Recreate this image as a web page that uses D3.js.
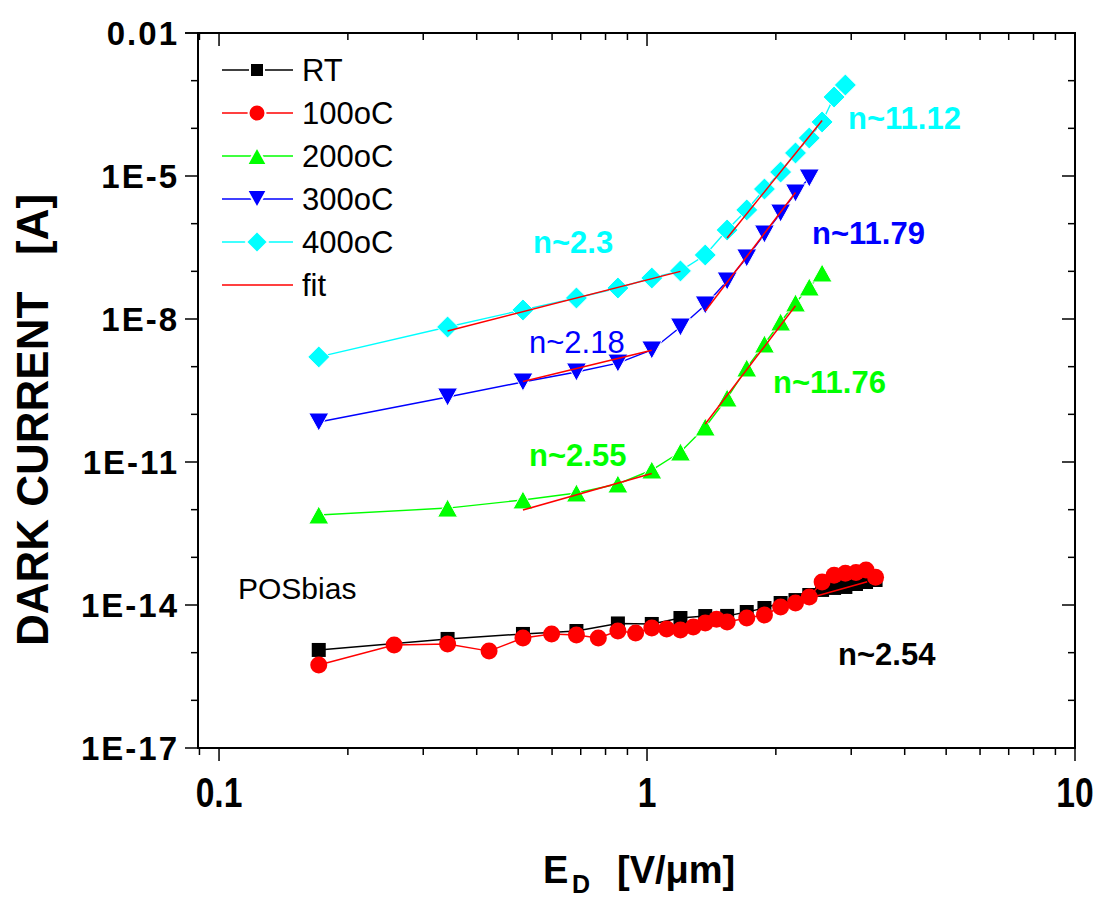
<!DOCTYPE html>
<html>
<head>
<meta charset="utf-8">
<script src="https://cdn.jsdelivr.net/npm/d3@7"></script>
<style>
  body { margin: 0; background: #fff; }
  svg { display: block; }
  text { font-family: Arial, "Liberation Sans", sans-serif; }
</style>
</head>
<body>
<svg id="chart" width="1100" height="898"></svg>
<script>
// Applied field E_D [V/um] for the integer voltage steps and for the half steps
const fieldFull = [0.171, 0.342, 0.513, 0.684, 0.855, 1.026, 1.197, 1.368, 1.539, 1.71,
                   1.881, 2.052, 2.223, 2.394, 2.565, 2.736, 2.907, 3.078, 3.249, 3.42];
const fieldHalf = [0.171, 0.2565, 0.342, 0.4275, 0.513, 0.5985, 0.684, 0.7695, 0.855, 0.9405,
                   1.026, 1.1115, 1.197, 1.2825, 1.368, 1.4535, 1.539,
                   1.71, 1.881, 2.052, 2.223, 2.394, 2.565, 2.736, 2.907, 3.078, 3.249, 3.42];

// Dark current [A] per anneal temperature
const currentRT = [1.14e-15, 1.94e-15, 2.47e-15, 2.85e-15, 4.1e-15, 4.0e-15, 5.33e-15, 5.87e-15, 5.9e-15, 7.13e-15,
                   8.65e-15, 1.10e-14, 1.27e-14, 1.62e-14, 2.07e-14, 2.28e-14, 2.39e-14, 2.76e-14, 3.04e-14, 3.35e-14];
const current100 = [5.51e-16, 1.45e-15, 1.52e-15, 1.08e-15, 2.03e-15, 2.47e-15, 2.35e-15, 2.03e-15, 2.85e-15, 2.59e-15,
                    3.30e-15, 3.15e-15, 3.0e-15, 3.46e-15, 4.19e-15, 5.0e-15, 4.4e-15,
                    5.33e-15, 6.17e-15, 9.08e-15, 1.10e-14, 1.47e-14, 3.04e-14, 4.19e-14, 4.61e-14, 4.8e-14, 5.42e-14, 3.80e-14];
const current200 = [7.73e-13, 1.08e-12, 1.60e-12, 2.24e-12, 3.46e-12, 6.79e-12, 1.62e-11, 5.42e-11, 2.20e-10, 9.38e-10,
                    2.99e-9, 8.65e-9, 2.17e-8, 4.69e-8, 9.23e-8];
const current300 = [6.90e-11, 2.31e-10, 4.77e-10, 7.73e-10, 1.19e-9, 2.24e-9, 6.79e-9, 1.97e-8, 6.27e-8, 1.91e-7,
                    6.07e-7, 1.67e-6, 4.40e-6, 9.08e-6];
const current400 = [1.60e-9, 6.79e-9, 1.55e-8, 2.76e-8, 4.47e-8, 7.24e-8, 1.02e-7, 2.20e-7, 7.36e-7, 1.94e-6,
                    5.33e-6, 1.21e-5, 3.04e-5, 6.27e-5, 1.36e-4, 4.54e-4, 8.11e-4];

// Power-law fits I = I0 * (E/E0)^n over [E0, E1]
const fitStartField = [0.342, 1.539, 0.513, 1.368, 0.513, 1.368, 2.43];
const fitEndField   = [1.197, 2.565, 1.026, 2.223, 1.026, 2.223, 3.27];
const fitStartCurrent = [5.6e-9, 5.0e-7, 4.9e-10, 1.47e-8, 9.8e-13, 6.27e-11, 1.45e-14];
const fitExponent   = [2.3, 11.12, 2.18, 11.79, 2.55, 11.76, 2.54];

// Slope annotations
const slopeLabels = ["n~2.3", "n~11.12", "n~11.79", "n~2.18", "n~2.55", "n~11.76", "n~2.54"];

// Axis ticks
const xTickValues = [0.1, 1, 10];
const xTickLabels = ["0.1", "1", "10"];
const yTickValues = [1e-17, 1e-14, 1e-11, 1e-8, 1e-5, 1e-2];
const yTickLabels = ["1E-17", "1E-14", "1E-11", "1E-8", "1E-5", "0.01"];

const legendLabels = ["RT", "100oC", "200oC", "300oC", "400oC", "fit"];

const svg = d3.select("#chart");
const plotLeft = 198, plotRight = 1075, plotTop = 33, plotBottom = 748;

const x = d3.scaleLog().domain([0.0893, 10]).range([plotLeft, plotRight]);
const y = d3.scaleLog().domain([1e-17, 1e-2]).range([plotBottom, plotTop]);

// Marker shapes
const shapes = {
  square: s => `M${-s/2},${-s/2}h${s}v${s}h${-s}Z`,
  circle: s => `M${s/2},0A${s/2},${s/2} 0 1,1 ${-s/2},0A${s/2},${s/2} 0 1,1 ${s/2},0Z`,
  up: s => `M0,${-s*0.45}L${s/2},${s*0.45}L${-s/2},${s*0.45}Z`,
  down: s => `M0,${s*0.45}L${s/2},${-s*0.45}L${-s/2},${-s*0.45}Z`,
  diamond: s => `M0,${-s/2}L${s/2},0L0,${s/2}L${-s/2},0Z`
};

const series = [
  { xs: fieldFull, ys: currentRT,  color: "#000000", shape: "square",  size: 14, edge: "none" },
  { xs: fieldHalf, ys: current100, color: "#ff0000", shape: "circle",  size: 17, edge: "none" },
  { xs: fieldFull, ys: current200, color: "#00ff00", shape: "up",      size: 20, edge: "#fff" },
  { xs: fieldFull, ys: current300, color: "#0000ff", shape: "down",    size: 20, edge: "#fff" },
  { xs: fieldFull, ys: current400, color: "#00ffff", shape: "diamond", size: 22, edge: "#fff" }
];

// Axis ticks (decades on y, 1-9 per decade on x)
const xMinor = [];
for (const d of [0.01, 0.1, 1]) for (let m = 1; m <= 9; m++) {
  const v = +(m * d).toPrecision(3);
  if (v >= 0.0893 && v <= 10) xMinor.push(v);
}
xMinor.push(10);
const yMinor = d3.range(-17, -1).map(e => Math.pow(10, e));

const axisG = svg.append("g").attr("stroke", "#000");
// bottom ticks (outward) and top ticks (inward)
xMinor.forEach(v => {
  const major = xTickValues.includes(v);
  const len = major ? 13 : 7;
  axisG.append("line").attr("x1", x(v)).attr("x2", x(v)).attr("y1", plotBottom).attr("y2", plotBottom + len).attr("stroke-width", 1.5);
  axisG.append("line").attr("x1", x(v)).attr("x2", x(v)).attr("y1", plotTop).attr("y2", plotTop + len).attr("stroke-width", 1.5);
});
// left ticks (outward) and right ticks (inward)
yMinor.concat([1e-2]).forEach(v => {
  const major = yTickValues.some(t => Math.abs(Math.log10(t) - Math.log10(v)) < 1e-6);
  const len = major ? 13 : 7;
  axisG.append("line").attr("x1", plotLeft - len).attr("x2", plotLeft).attr("y1", y(v)).attr("y2", y(v)).attr("stroke-width", 1.5);
  axisG.append("line").attr("x1", plotRight - len).attr("x2", plotRight).attr("y1", y(v)).attr("y2", y(v)).attr("stroke-width", 1.5);
});
// frame
svg.append("rect").attr("x", plotLeft).attr("y", plotTop).attr("width", plotRight - plotLeft).attr("height", plotBottom - plotTop)
  .attr("fill", "none").attr("stroke", "#000").attr("stroke-width", 2);

// tick labels
svg.selectAll(".xtl").data(xTickValues).enter().append("text")
  .attr("transform", d => `translate(${x(d)},807) scale(0.8,1)`).attr("text-anchor", "middle")
  .attr("font-size", 42).attr("font-weight", "bold")
  .text((d, i) => xTickLabels[i]);
svg.selectAll(".ytl").data(yTickValues).enter().append("text")
  .attr("x", 179).attr("y", d => y(d) + 11.5).attr("text-anchor", "end")
  .attr("font-size", 33).attr("font-weight", "bold").attr("letter-spacing", 2)
  .text((d, i) => yTickLabels[i]);

// axis titles
svg.append("text").attr("transform", "translate(48,420) rotate(-90)")
  .attr("text-anchor", "middle").attr("font-size", 44).attr("font-weight", "bold")
  .style("white-space", "pre").text("DARK CURRENT   [A]");
svg.append("text").attr("x", 543).attr("y", 883).attr("font-size", 38).attr("font-weight", "bold").text("E");
svg.append("text").attr("x", 572).attr("y", 893).attr("font-size", 25).attr("font-weight", "bold").text("D");
svg.append("text").attr("x", 617).attr("y", 883).attr("font-size", 38).attr("font-weight", "bold").text("[V/\u03bcm]");

// data
const plot = svg.append("g");
const line = d3.line().x(d => x(d[0])).y(d => y(d[1]));
series.forEach(s => {
  const pts = s.xs.slice(0, s.ys.length).map((v, i) => [v, s.ys[i]]);
  plot.append("path").attr("d", line(pts)).attr("fill", "none")
    .attr("stroke", s.color).attr("stroke-width", 1.4);
  plot.selectAll(null).data(pts).enter().append("path")
    .attr("transform", d => `translate(${x(d[0])},${y(d[1])})`)
    .attr("d", shapes[s.shape](s.size))
    .attr("fill", s.color)
    .attr("stroke", s.edge).attr("stroke-width", s.edge === "none" ? 0 : 1);
});

// fits
fitStartField.forEach((x0, i) => {
  const x1 = fitEndField[i];
  const y0 = fitStartCurrent[i];
  const y1 = y0 * Math.pow(x1 / x0, fitExponent[i]);
  plot.append("line").attr("x1", x(x0)).attr("y1", y(y0)).attr("x2", x(x1)).attr("y2", y(y1))
    .attr("stroke", "#ff0000").attr("stroke-width", 1.5);
});

// slope annotations
const labelPos = [[533, 253], [848, 129], [812, 244], [529, 353], [529, 466], [773, 393], [838, 665]];
const labelColor = ["#00ffff", "#00ffff", "#0000ff", "#0000ff", "#00ff00", "#00ff00", "#000000"];
const labelBold = [true, true, true, false, true, true, true];
slopeLabels.forEach((t, i) => {
  svg.append("text").attr("x", labelPos[i][0]).attr("y", labelPos[i][1])
    .attr("font-size", 31).attr("font-weight", labelBold[i] ? "bold" : "normal")
    .attr("fill", labelColor[i]).text(t);
});
svg.append("text").attr("x", 238).attr("y", 599).attr("font-size", 30).text("POSbias");

// legend
const legend = svg.append("g");
legendLabels.forEach((t, i) => {
  const ly = 70 + 43 * i;
  const s = series[i];
  const col = s ? s.color : "#ff0000";
  legend.append("line").attr("x1", 222).attr("x2", 293).attr("y1", ly).attr("y2", ly)
    .attr("stroke", col).attr("stroke-width", 1.4);
  if (s) {
    legend.append("path").attr("transform", `translate(257,${ly})`)
      .attr("d", shapes[s.shape](s.size)).attr("fill", col)
      .attr("stroke", "#fff").attr("stroke-width", 2);
  }
  legend.append("text").attr("x", 302).attr("y", ly + 11).attr("font-size", 31).text(t);
});
</script>
</body>
</html>
